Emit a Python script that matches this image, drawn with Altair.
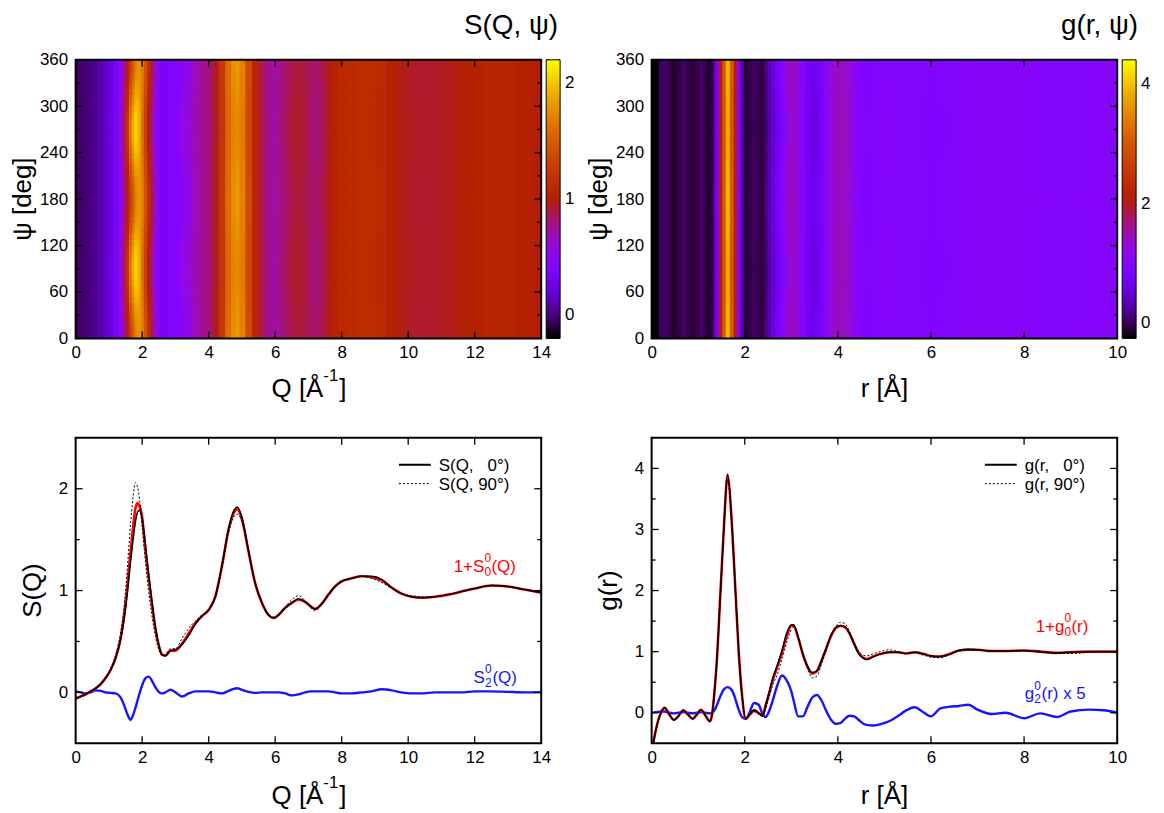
import math
import altair as alt
import pandas as pd

FONT = "Liberation Sans"

# ---------------- S(Q) curves ----------------
Q = [0.0, 0.15, 0.3, 0.45, 0.6, 0.75, 0.9, 1.05, 1.2, 1.35,
     1.45, 1.55, 1.65, 1.72, 1.8, 1.86, 1.92, 2.0, 2.1, 2.2,
     2.3, 2.4, 2.5, 2.6, 2.7, 2.85, 3.0, 3.2, 3.4, 3.6,
     3.8, 4.0, 4.2, 4.4, 4.6, 4.75, 4.86, 5.0, 5.2, 5.4,
     5.6, 5.8, 5.95, 6.1, 6.3, 6.5, 6.7, 6.9, 7.05, 7.2,
     7.4, 7.6, 7.8, 8.0, 8.3, 8.6, 8.9, 9.2, 9.5, 9.8,
     10.1, 10.4, 10.8, 11.2, 11.6, 12.0, 12.5, 13.0, 13.5, 14.0]
S_AVG = [-0.06, -0.04, -0.02, 0.01, 0.04, 0.08, 0.14, 0.22, 0.34, 0.53,
         0.74, 1.03, 1.38, 1.60, 1.81, 1.86, 1.83, 1.72, 1.39, 1.11,
         0.85, 0.62, 0.46, 0.37, 0.36, 0.41, 0.41, 0.48, 0.58, 0.68,
         0.75, 0.81, 0.94, 1.24, 1.60, 1.76, 1.80, 1.70, 1.38, 1.07,
         0.88, 0.76, 0.73, 0.76, 0.83, 0.88, 0.91, 0.89, 0.85, 0.82,
         0.87, 0.96, 1.04, 1.09, 1.12, 1.14, 1.13, 1.10, 1.03, 0.97,
         0.94, 0.93, 0.94, 0.96, 0.99, 1.02, 1.05, 1.04, 1.01, 0.98]
S_0DEG = [-0.06, -0.04, -0.02, 0.01, 0.04, 0.08, 0.14, 0.22, 0.33, 0.51,
          0.70, 0.96, 1.28, 1.48, 1.68, 1.77, 1.79, 1.71, 1.45, 1.15,
          0.88, 0.64, 0.47, 0.37, 0.36, 0.41, 0.42, 0.47, 0.56, 0.67,
          0.75, 0.81, 0.94, 1.25, 1.61, 1.78, 1.82, 1.72, 1.39, 1.07,
          0.88, 0.76, 0.73, 0.76, 0.83, 0.88, 0.92, 0.89, 0.85, 0.82,
          0.87, 0.96, 1.04, 1.09, 1.12, 1.14, 1.14, 1.11, 1.03, 0.97,
          0.94, 0.93, 0.94, 0.96, 0.99, 1.02, 1.05, 1.04, 1.01, 0.98]
S_90DEG = [-0.06, -0.04, -0.02, 0.01, 0.04, 0.08, 0.15, 0.23, 0.36, 0.58,
           0.82, 1.20, 1.65, 1.90, 2.06, 2.02, 1.90, 1.62, 1.28, 0.98,
           0.74, 0.55, 0.42, 0.36, 0.37, 0.43, 0.43, 0.53, 0.63, 0.70,
           0.76, 0.81, 0.93, 1.22, 1.57, 1.72, 1.75, 1.68, 1.37, 1.07,
           0.88, 0.77, 0.74, 0.77, 0.84, 0.91, 0.95, 0.90, 0.84, 0.80,
           0.86, 0.95, 1.03, 1.10, 1.12, 1.14, 1.12, 1.08, 1.02, 0.97,
           0.95, 0.94, 0.94, 0.96, 0.99, 1.02, 1.05, 1.04, 1.01, 0.98]
S2 = [0.01, 0.0, -0.01, 0.0, 0.02, 0.015, 0.0, -0.005, -0.01, -0.05,
      -0.12, -0.21, -0.27, -0.23, -0.15, -0.08, -0.01, 0.07, 0.14, 0.155,
      0.11, 0.05, 0.005, -0.01, 0.0, 0.026, 0.0, -0.04, -0.01, 0.01,
      0.01, 0.01, 0.0, -0.01, 0.015, 0.035, 0.04, 0.025, 0.005, -0.005,
      0.0, 0.0, 0.0, 0.0, -0.01, -0.03, -0.02, 0.0, 0.01, 0.01,
      0.01, 0.01, 0.0, -0.01, -0.01, 0.0, 0.01, 0.03, 0.02, 0.0,
      -0.01, -0.01, 0.0, 0.0, 0.0, 0.01, 0.01, 0.005, 0.0, 0.0]

# ---------------- g(r) curves ----------------
R = [0.0, 0.1, 0.2, 0.28, 0.38, 0.48, 0.58, 0.68, 0.78, 0.88,
     0.97, 1.06, 1.15, 1.25, 1.3, 1.35, 1.4, 1.48, 1.55, 1.63,
     1.73, 1.8, 1.87, 1.94, 2.02, 2.1, 2.2, 2.3, 2.38, 2.45,
     2.52, 2.6, 2.7, 2.8, 2.9, 3.0, 3.05, 3.15, 3.25, 3.35,
     3.45, 3.55, 3.65, 3.75, 3.85, 3.95, 4.05, 4.15, 4.25, 4.35,
     4.45, 4.55, 4.62, 4.75, 4.9, 5.1, 5.3, 5.45, 5.65, 5.85,
     6.0, 6.2, 6.4, 6.6, 6.8, 7.0, 7.3, 7.6, 8.0, 8.35,
     8.7, 9.0, 9.4, 9.7, 10.0]
G_AVG = [-0.65, -0.25, 0.0, 0.08, -0.03, -0.12, -0.05, 0.04, -0.03, -0.10,
         -0.03, 0.05, -0.04, -0.14, -0.02, 0.35, 0.85, 2.0, 3.0, 3.88,
         3.0, 2.0, 1.0, 0.3, -0.1, -0.04, 0.03, -0.01, -0.05, 0.12,
         0.30, 0.53, 0.75, 0.98, 1.25, 1.42, 1.42, 1.22, 0.95, 0.75,
         0.64, 0.68, 0.85, 1.05, 1.25, 1.38, 1.42, 1.40, 1.30, 1.13,
         0.98, 0.90, 0.88, 0.92, 0.96, 0.99, 0.99, 0.97, 0.99, 0.96,
         0.93, 0.92, 0.96, 1.02, 1.03, 1.03, 1.01, 1.01, 1.02, 1.00,
         0.98, 0.99, 1.00, 1.00, 1.00]
G_0DEG = [-0.65, -0.25, 0.0, 0.08, -0.03, -0.12, -0.05, 0.04, -0.03, -0.10,
          -0.03, 0.05, -0.04, -0.14, -0.02, 0.35, 0.85, 2.0, 3.02, 3.91,
          3.02, 2.0, 1.0, 0.3, -0.1, -0.03, 0.05, 0.0, -0.05, 0.13,
          0.33, 0.56, 0.78, 1.02, 1.30, 1.44, 1.44, 1.23, 0.96, 0.76,
          0.66, 0.69, 0.86, 1.06, 1.26, 1.39, 1.43, 1.41, 1.30, 1.12,
          0.96, 0.89, 0.87, 0.91, 0.96, 0.99, 0.99, 0.97, 0.99, 0.96,
          0.93, 0.92, 0.96, 1.02, 1.04, 1.03, 1.01, 1.01, 1.02, 1.00,
          0.98, 0.99, 1.00, 1.00, 1.00]
G_90DEG = [-0.65, -0.25, 0.0, 0.08, -0.03, -0.12, -0.05, 0.04, -0.03, -0.10,
           -0.03, 0.05, -0.04, -0.14, -0.02, 0.33, 0.82, 1.95, 2.95, 3.80,
           2.95, 1.98, 1.0, 0.3, -0.1, -0.05, 0.02, -0.02, -0.06, 0.06,
           0.25, 0.45, 0.63, 0.88, 1.15, 1.36, 1.40, 1.23, 0.95, 0.72,
           0.57, 0.60, 0.80, 1.03, 1.26, 1.41, 1.48, 1.46, 1.33, 1.15,
           1.00, 0.94, 0.93, 0.96, 1.00, 1.03, 1.00, 0.97, 0.98, 0.94,
           0.91, 0.90, 0.95, 1.01, 1.02, 1.02, 1.01, 1.01, 1.01, 0.99,
           0.97, 0.97, 0.99, 1.00, 1.00]
G2X5 = [0.0, 0.01, 0.02, 0.02, 0.0, -0.01, 0.0, 0.01, 0.0, -0.01,
        0.0, 0.01, 0.0, -0.01, 0.0, 0.04, 0.12, 0.28, 0.38, 0.42,
        0.36, 0.22, 0.05, -0.07, -0.10, 0.0, 0.16, 0.13, -0.02, -0.07,
        0.02, 0.2, 0.45, 0.61, 0.53, 0.35, 0.2, -0.06, -0.06, 0.1,
        0.25, 0.29, 0.2, 0.03, -0.11, -0.18, -0.17, -0.1, -0.05, -0.06,
        -0.12, -0.18, -0.2, -0.21, -0.19, -0.14, -0.05, 0.03, 0.09, 0.0,
        -0.06, 0.07, 0.1, 0.11, 0.13, 0.05, -0.02, 0.0, -0.09, -0.01,
        -0.07, 0.02, 0.05, 0.04, 0.0]

# ---------------- ticks / labels ----------------
PSI_TICKS = [0, 60, 120, 180, 240, 300, 360]
PSI_MINOR = [30, 90, 150, 210, 270, 330]
Q_TICKS = [0, 2, 4, 6, 8, 10, 12, 14]
R_TICKS = [0, 2, 4, 6, 8, 10]
S_TICKS = [0, 1, 2]
S_MINOR = [0.5, 1.5]
G_TICKS = [0, 1, 2, 3, 4]
G_MINOR = [0.5, 1.5, 2.5, 3.5]
SBAR_TICKS = [0, 1, 2]
SBAR_MINOR = [-0.2, 0.2, 0.4, 0.6, 0.8, 1.2, 1.4, 1.6, 1.8, 2.2]
GBAR_TICKS = [0, 2, 4]
GBAR_MINOR = [0.5, 1, 1.5, 2.5, 3, 3.5]
S_COLOR_RANGE = [-0.2, 2.2]
G_COLOR_RANGE = [-0.25, 4.4]
PSI_ROWS = 48

# gnuplot-like palette (black - purple - red - orange - yellow)
PAL = ["#000000", "#39004f", "#510096", "#6301ce", "#7202f3", "#8004ff", "#8c07f3",
       "#970bce", "#a11096", "#ab174f", "#b42000", "#bd2a00", "#c63700", "#ce4600",
       "#d55700", "#dd6c00", "#e48300", "#eb9d00", "#f2ba00", "#f9db00", "#ffff00"]

W, HH, HL = 468, 280, 307
ONE = pd.DataFrame({"k": [0]})
RED = "#ff0000"
BLUE = "#1414ff"


def stops(lo, hi):
    n = len(PAL)
    return [lo + (hi - lo) * i / (n - 1) for i in range(n)]


def txt(text, x, y, size=17, color="black", align="left", angle=0, baseline="alphabetic"):
    kw = dict(text=text, font=FONT, fontSize=size, color=color, align=align, baseline=baseline)
    if angle:
        kw["angle"] = angle
    return alt.Chart(ONE).mark_text(**kw).encode(x=alt.value(x), y=alt.value(y))


def vrule(x1, x2, y, color="black", width=1.3, dash=None):
    kw = dict(color=color, strokeWidth=width)
    if dash:
        kw["strokeDash"] = dash
    return alt.Chart(ONE).mark_rule(**kw).encode(x=alt.value(x1), x2=alt.value(x2), y=alt.value(y))


def xaxis(vals):
    return alt.Axis(values=vals, title=None, labelFlush=False, labelPadding=6,
                    ticks=False, domain=False, grid=False, labelOverlap=False)


def yaxis(vals):
    return alt.Axis(values=vals, title=None, labelPadding=8, ticks=False, domain=False,
                    grid=False, labelOverlap=False)


def tick_layers(xsc, ysc, xax, yax, xmaj, ymaj, ymin, w, h):
    out = []
    for vals, L, ax in [(xmaj, 7, "x"), (ymaj, 7, "y"), (ymin, 4, "y")]:
        if not vals:
            continue
        base = alt.Chart(pd.DataFrame({"t": vals})).mark_rule(color="black", strokeWidth=1.3)
        if ax == "x":
            f = alt.X("t:Q", scale=xsc, axis=xax)
            out.append(base.encode(x=f, y=alt.value(h), y2=alt.value(h - L)))
            out.append(base.encode(x=f, y=alt.value(0), y2=alt.value(L)))
        else:
            f = alt.Y("t:Q", scale=ysc, axis=yax)
            out.append(base.encode(y=f, x=alt.value(0), x2=alt.value(L)))
            out.append(base.encode(y=f, x=alt.value(w), x2=alt.value(w - L)))
    return out


def frame(w, h):
    return alt.Chart(ONE).mark_rect(fillOpacity=0, stroke="black", strokeWidth=2).encode(
        x=alt.value(0), x2=alt.value(w), y=alt.value(0), y2=alt.value(h))


def heat_df(xs, a0, a90, ov):
    e = [xs[0]] + [(xs[i] + xs[i + 1]) / 2 for i in range(len(xs) - 1)] + [xs[-1]]
    step = 360 / PSI_ROWS
    rows = []
    for j in range(PSI_ROWS):
        plo = j * step
        c = math.radians(plo + step / 2)
        w0, w90 = math.cos(c) ** 2, math.sin(c) ** 2
        for i in range(len(xs)):
            rows.append({"x": e[i], "x2": e[i + 1] + ov, "y": plo, "y2": plo + step + 1.0,
                         "v": a0[i] * w0 + a90[i] * w90})
    return pd.DataFrame(rows)


def colorbar_ticks(crange, majors, minors):
    lo, hi = crange
    out = []
    for vals, L in [(majors, 5), (minors, 3)]:
        for v in vals:
            py = HH * (hi - v) / (hi - lo)
            out.append(vrule(W + 5, W + 5 + L, py, width=1))
            out.append(vrule(W + 19 - L, W + 19, py, width=1))
    return out


def heat_panel(xs, a0, a90, xmax, xticks, crange, cticks, cminor, ov, title, title_dx, xtitle,
               anchor=False):
    xsc = alt.Scale(domain=[0, xmax], nice=False, zero=False)
    ysc = alt.Scale(domain=[0, 360], nice=False, zero=False)
    xax, yax = xaxis(xticks), yaxis(PSI_TICKS)
    csc = alt.Scale(domain=stops(*crange), range=PAL, interpolate="rgb", clamp=True)
    rect = alt.Chart(heat_df(xs, a0, a90, ov)).mark_rect(clip=True).encode(
        x=alt.X("x:Q", scale=xsc, axis=xax),
        x2="x2:Q",
        y=alt.Y("y:Q", scale=ysc, axis=yax),
        y2="y2:Q",
        color=alt.Color("v:Q", scale=csc, legend=alt.Legend(
            orient="none", legendX=W + 5, legendY=0, direction="vertical",
            gradientLength=HH, gradientThickness=14, values=cticks, title=None, format="d",
            labelFont=FONT, labelFontSize=17, labelOffset=5,
            gradientStrokeColor="black", gradientStrokeWidth=1)),
    )
    layers = [rect] + tick_layers(xsc, ysc, xax, yax, xticks[1:-1], PSI_TICKS[1:-1], PSI_MINOR, W, HH)
    layers += colorbar_ticks(crange, [v for v in cticks if crange[0] < v < crange[1]], cminor)
    layers += [frame(W, HH),
               txt("ψ [deg]", -53, HH / 2, size=26, align="center", angle=270, baseline="middle"),
               txt(title, W + title_dx, -26, size=28, align="right")]
    layers += xtitle(HH + 59)
    if anchor:
        # invisible point fixing the top-left corner of the whole figure
        layers.append(alt.Chart(ONE).mark_point(size=1, opacity=0, filled=True).encode(
            x=alt.value(-67), y=alt.value(-49)))
    return alt.layer(*layers).properties(width=W, height=HH)


def q_title(y):
    return [txt("Q [Å", 197, y, size=26), txt("-1", 249, y - 16, size=17),
            txt("]", 265, y, size=26)]


def r_title(y):
    return [txt("r [Å]", W / 2, y, size=26, align="center")]


def line_panel(xs, avg, d0, d90, comp, xmax, xticks, ydom, yticks, yminor, ytitle,
               leg0, leg90, red_parts, blue_parts, xtitle, legx):
    xsc = alt.Scale(domain=[0, xmax], nice=False, zero=False)
    ysc = alt.Scale(domain=ydom, nice=False, zero=False)
    xax, yax = xaxis(xticks), yaxis(yticks)

    def ln(arr, color, width, dash=None):
        kw = dict(color=color, strokeWidth=width, interpolate="monotone", clip=True)
        if dash:
            kw["strokeDash"] = dash
        df = pd.DataFrame({"x": xs, "y": arr})
        return alt.Chart(df).mark_line(**kw).encode(
            x=alt.X("x:Q", scale=xsc, axis=xax), y=alt.Y("y:Q", scale=ysc, axis=yax))

    layers = [ln(comp, BLUE, 2.4), ln(avg, RED, 2.6),
              ln(d0, "black", 1.5), ln(d90, "black", 1.0, dash=[2, 2])]
    layers += tick_layers(xsc, ysc, xax, yax, xticks[1:-1], yticks, yminor, W, HL)
    layers.append(frame(W, HL))
    layers.append(vrule(legx, legx + 32, 27, width=2))
    layers.append(vrule(legx, legx + 32, 46, width=1, dash=[2, 2]))
    layers.append(txt(leg0, legx + 40, 33))
    layers.append(txt(leg90, legx + 40, 52))
    for (t, x, y, s, c) in red_parts + blue_parts:
        layers.append(txt(t, x, y, size=s, color=c))
    layers.append(txt(ytitle, -43, HL / 2, size=26, align="center", angle=270, baseline="middle"))
    layers += xtitle(HL + 61)
    return alt.layer(*layers).properties(width=W, height=HL)


A = heat_panel(Q, S_0DEG, S_90DEG, 14, Q_TICKS, S_COLOR_RANGE, SBAR_TICKS, SBAR_MINOR, 0.03,
               "S(Q, ψ)", 17, q_title, anchor=True)
B = heat_panel(R, G_0DEG, G_90DEG, 10, R_TICKS, G_COLOR_RANGE, GBAR_TICKS, GBAR_MINOR, 0.022,
               "g(r, ψ)", 21, r_title)

C = line_panel(Q, S_AVG, S_0DEG, S_90DEG, S2, 14, Q_TICKS, [-0.5, 2.5], S_TICKS, S_MINOR,
               "S(Q)", "S(Q,\u00a0\u00a0\u00a00°)", "S(Q, 90°)",
               [("1+S", 380, 135, 17, RED), ("0", 411, 125, 12, RED), ("0", 411, 139, 12, RED),
                ("(Q)", 418, 135, 17, RED)],
               [("S", 400, 246, 17, BLUE), ("0", 411.5, 236, 12, BLUE), ("2", 411.5, 250, 12, BLUE),
                ("(Q)", 419, 246, 17, BLUE)],
               q_title, 325)
D = line_panel(R, G_AVG, G_0DEG, G_90DEG, G2X5, 10, R_TICKS, [-0.5, 4.5], G_TICKS, G_MINOR,
               "g(r)", "g(r,\u00a0\u00a0\u00a00°)", "g(r, 90°)",
               [("1+g", 386, 195, 17, RED), ("0", 415, 185, 12, RED), ("0", 415, 199, 12, RED),
                ("(r)", 422, 195, 17, RED)],
               [("g", 375, 263, 17, BLUE), ("0", 384.5, 253, 12, BLUE), ("2", 384.5, 267, 12, BLUE),
                ("(r) x 5", 392, 263, 17, BLUE)],
               r_title, 335)

chart = alt.concat(A, B, C, D, columns=2, spacing={"row": 100, "column": 111},
                   bounds="flush", align="each").resolve_scale(color="independent")
chart = chart.properties(padding={"left": 0, "top": 0, "right": 5, "bottom": 5})
chart = chart.configure_view(strokeWidth=0).configure_axis(
    labelFont=FONT, labelFontSize=17, labelColor="black").configure_legend(
    labelFont=FONT, labelFontSize=17, labelColor="black")

chart.save("out.html", embed_options={"renderer": "svg", "actions": False})
